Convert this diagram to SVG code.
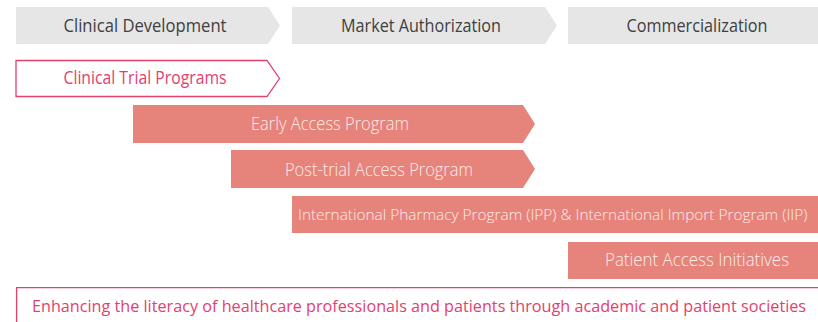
<svg xmlns="http://www.w3.org/2000/svg" width="818" height="322" viewBox="0 0 818 322">
<style>
text{font-family:"Open Sans","Noto Sans",sans-serif;font-size:18px;text-anchor:middle}
.ph{fill:#e6e6e6}
.pht{fill:#404040;font-weight:400}
.sal{fill:#e6837a}
.salt{fill:#fdecea;font-weight:300}
.out{fill:#ffffff;stroke:#e2416e;stroke-width:1.3}
.outt{fill:#e2416e;font-weight:400}
</style>
<rect width="818" height="322" fill="#ffffff"/>
<g id="phase-clinical-development">
<polygon class="ph" points="16,7 268,7 280,25.5 268,44 16,44"/>
<text class="pht" x="145" y="32" textLength="163" lengthAdjust="spacingAndGlyphs">Clinical Development</text>
</g>
<g id="phase-market-authorization">
<polygon class="ph" points="292,7 545,7 557,25.5 545,44 292,44"/>
<text class="pht" x="421" y="32" textLength="160" lengthAdjust="spacingAndGlyphs">Market Authorization</text>
</g>
<g id="phase-commercialization">
<rect class="ph" x="568" y="7" width="250" height="37"/>
<text class="pht" x="697" y="32" textLength="141" lengthAdjust="spacingAndGlyphs">Commercialization</text>
</g>
<g id="clinical-trial-programs">
<polygon class="out" points="16,60.5 267,60.5 279.5,78.5 267,96.5 16,96.5"/>
<text class="outt" x="145" y="84" textLength="163" lengthAdjust="spacingAndGlyphs">Clinical Trial Programs</text>
</g>
<g id="early-access-program">
<polygon class="sal" points="133,105 523,105 535,124 523,143 133,143"/>
<text class="salt" x="330" y="130" textLength="158" lengthAdjust="spacingAndGlyphs">Early Access Program</text>
</g>
<g id="post-trial-access-program">
<polygon class="sal" points="231,150 523,150 535,169 523,188 231,188"/>
<text class="salt" x="379" y="176" textLength="188" lengthAdjust="spacingAndGlyphs">Post-trial Access Program</text>
</g>
<g id="ipp-iip">
<rect class="sal" x="292" y="196" width="526" height="37"/>
<text class="salt" x="298" y="220" style="text-anchor:start;font-size:15.4px">International Pharmacy Program (IPP) &amp; International Import Program (IIP)</text>
</g>
<g id="patient-access-initiatives">
<rect class="sal" x="568" y="242" width="250" height="37"/>
<text class="salt" x="697" y="266" textLength="184" lengthAdjust="spacingAndGlyphs">Patient Access Initiatives</text>
</g>
<g id="literacy">
<rect x="16" y="287" width="802" height="35" fill="#ffffff"/>
<path d="M16.6,322 V287.6 H818" fill="none" stroke="#e2416e" stroke-width="1.3"/>
<text class="outt" x="32" y="312" style="text-anchor:start;font-size:16.2px">Enhancing the literacy of healthcare professionals and patients through academic and patient societies</text>
</g>
<g id="connectors"></g>
</svg>
